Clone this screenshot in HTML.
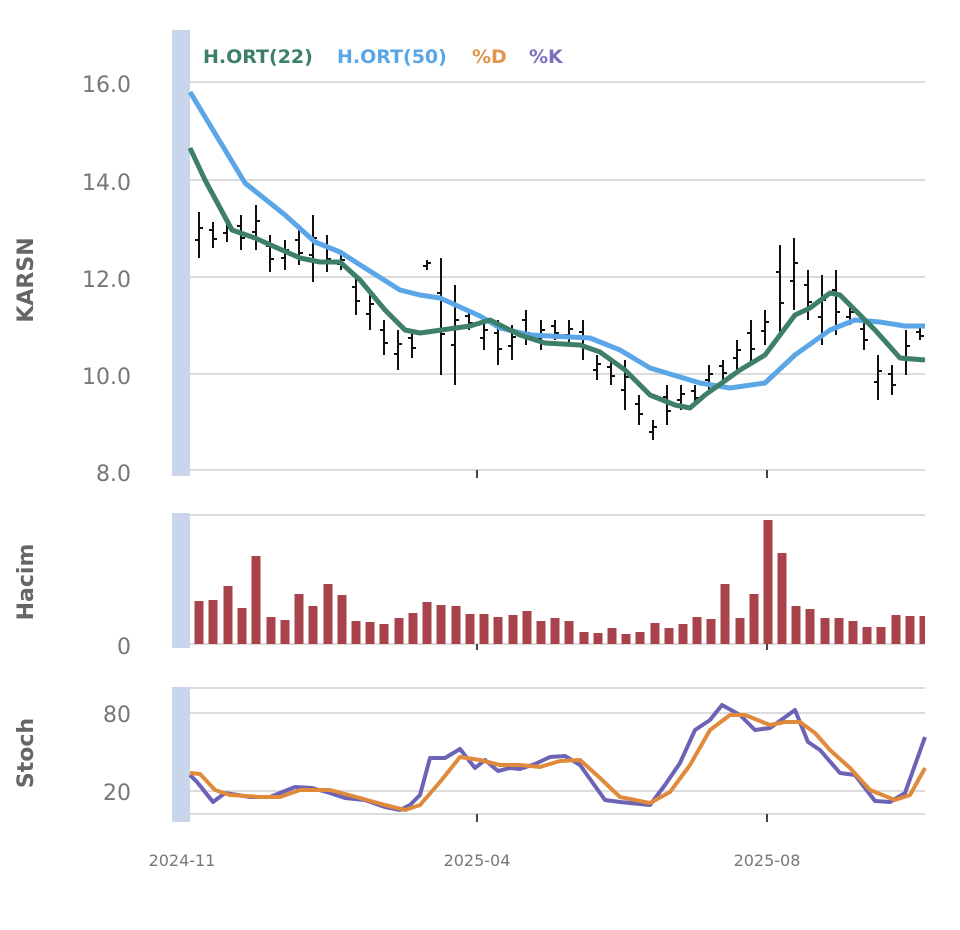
<!DOCTYPE html>
<html><head><meta charset="utf-8"><style>
body{margin:0;background:#fff;}
svg{display:block;font-family:"DejaVu Sans","Liberation Sans",sans-serif;}
</style></head><body>
<svg width="960" height="930" viewBox="0 0 960 930" xmlns="http://www.w3.org/2000/svg">
<rect x="172" y="30" width="18" height="446" fill="#c9d5ea"/>
<rect x="172" y="513" width="18" height="135" fill="#c9d5ea"/>
<rect x="172" y="687" width="18" height="135" fill="#c9d5ea"/>
<g stroke="#dcdcdc" stroke-width="2">
<line x1="190" x2="925" y1="82" y2="82"/><line x1="190" x2="925" y1="180" y2="180"/>
<line x1="190" x2="925" y1="277" y2="277"/><line x1="190" x2="925" y1="374" y2="374"/>
<line x1="190" x2="925" y1="470" y2="470"/>
<line x1="190" x2="925" y1="515" y2="515"/><line x1="190" x2="925" y1="644" y2="644"/>
<line x1="190" x2="925" y1="688" y2="688"/><line x1="190" x2="925" y1="713" y2="713"/>
<line x1="190" x2="925" y1="791" y2="791"/><line x1="190" x2="925" y1="814" y2="814"/>
</g>
<g stroke="#444" stroke-width="2">
<line x1="477" x2="477" y1="470" y2="478"/><line x1="767" x2="767" y1="470" y2="478"/>
<line x1="477" x2="477" y1="644" y2="650"/><line x1="767" x2="767" y1="644" y2="650"/>
<line x1="477" x2="477" y1="814" y2="822"/><line x1="767" x2="767" y1="814" y2="822"/>
</g>
<g fill="#777" font-size="22" text-anchor="end">
<text x="131" y="92">16.0</text><text x="131" y="190">14.0</text><text x="131" y="287">12.0</text>
<text x="131" y="384">10.0</text><text x="131" y="481">8.0</text>
<text x="131" y="654">0</text><text x="131" y="722">80</text><text x="131" y="800">20</text>
</g>
<g fill="#666" font-size="22" font-weight="bold" text-anchor="middle">
<text transform="translate(33,280) rotate(-90)">KARSN</text>
<text transform="translate(33,582) rotate(-90)">Hacim</text>
<text transform="translate(33,753) rotate(-90)">Stoch</text>
</g>
<g fill="#777" font-size="16" text-anchor="middle">
<text x="182" y="866">2024-11</text><text x="477" y="866">2025-04</text><text x="767" y="866">2025-08</text>
</g>
<g font-size="19" font-weight="bold">
<text x="203" y="63" fill="#3d7f68">H.ORT(22)</text>
<text x="337" y="63" fill="#5aa6e6">H.ORT(50)</text>
<text x="472" y="63" fill="#e2954c">%D</text>
<text x="529" y="63" fill="#7c6fbf">%K</text>
</g>
<path fill="none" stroke="#111" stroke-width="2" d="M199 212V258M195 240H199M199 228H203M213 222V248M209 230H213M213 239H217M227 220V242M223 233H227M227 228H231M241 215V250M237 226H241M241 238H245M256 205V250M252 232H256M256 221H260M270 235V272M266 246H270M270 259H274M285 240V270M281 258H285M285 250H289M299 230V265M295 240H299M299 253H303M313 215V282M309 255H313M313 238H317M327 235V272M323 246H327M327 259H331M341 255V270M337 264H341M341 260H345M356 275V315M352 287H356M356 301H360M370 290V330M366 314H370M370 304H374M384 320V355M380 330H384M384 343H388M398 330V370M394 354H398M398 344H402M412 330V358M408 338H412M412 348H416M427 260V270M423 266H427M427 263H431M441 258V375M437 293H441M441 334H445M455 285V385M451 345H455M455 320H459M469 310V330M465 316H469M469 323H473M484 320V350M480 338H484M484 330H488M498 320V365M494 333H498M498 349H502M512 325V360M508 346H512M512 337H516M526 310V345M522 320H526M526 333H530M541 320V350M537 338H541M541 330H545M555 320V340M551 326H555M555 333H559M569 320V345M565 335H569M569 329H573M583 320V360M579 332H583M583 346H587M597 355V380M593 370H597M597 364H601M611 360V385M607 367H611M611 376H615M625 360V410M621 390H625M625 377H629M639 395V425M635 404H639M639 414H643M653 420V440M649 432H653M653 427H657M667 385V425M663 397H667M667 411H671M681 385V410M677 400H681M681 394H685M695 385V405M691 391H695M695 398H699M709 365V390M705 380H709M709 374H713M723 360V380M719 366H723M723 373H727M737 340V370M733 358H737M737 350H741M751 320V365M747 333H751M751 349H755M765 310V345M761 331H765M765 322H769M780 245V335M776 272H780M780 303H784M794 238V310M790 281H794M794 263H798M808 270V320M804 285H808M808 302H812M822 275V345M818 317H822M822 300H826M836 270V335M832 290H836M836 312H840M850 305V325M846 317H850M850 312H854M864 320V350M860 329H864M864 340H868M878 355V400M874 382H878M878 371H882M892 365V395M888 374H892M892 385H896M906 330V375M902 357H906M906 346H910M920 328V340M916 332H920M920 336H924"/>
<polyline fill="none" stroke="#5aa6e6" stroke-width="5" stroke-linejoin="round" points="190,92 245,183 285,215 315,242 340,252 365,268 400,290 420,295 440,298 480,316 500,328 530,335 590,338 620,350 650,368 700,383 730,388 765,383 795,355 830,330 855,320 880,322 905,326 925,326"/>
<polyline fill="none" stroke="#3d7f68" stroke-width="5" stroke-linejoin="round" points="190,148 205,180 232,230 255,238 300,258 320,262 340,262 360,280 385,310 405,330 420,333 470,326 490,320 520,335 545,343 580,345 600,352 625,370 650,395 675,405 690,408 705,395 740,370 765,355 795,315 810,308 830,293 840,295 855,310 875,330 900,358 925,360"/>
<g fill="#a8434b">
<rect x="194.5" y="601" width="9" height="43"/><rect x="208.5" y="600" width="9" height="44"/>
<rect x="223.5" y="586" width="9" height="58"/><rect x="237.5" y="608" width="9" height="36"/>
<rect x="251.5" y="556" width="9" height="88"/><rect x="266.5" y="617" width="9" height="27"/>
<rect x="280.5" y="620" width="9" height="24"/><rect x="294.5" y="594" width="9" height="50"/>
<rect x="308.5" y="606" width="9" height="38"/><rect x="323.5" y="584" width="9" height="60"/>
<rect x="337.5" y="595" width="9" height="49"/><rect x="351.5" y="621" width="9" height="23"/>
<rect x="365.5" y="622" width="9" height="22"/><rect x="379.5" y="624" width="9" height="20"/>
<rect x="394.5" y="618" width="9" height="26"/><rect x="408.5" y="613" width="9" height="31"/>
<rect x="422.5" y="602" width="9" height="42"/><rect x="436.5" y="605" width="9" height="39"/>
<rect x="451.5" y="606" width="9" height="38"/><rect x="465.5" y="614" width="9" height="30"/>
<rect x="479.5" y="614" width="9" height="30"/><rect x="493.5" y="617" width="9" height="27"/>
<rect x="508.5" y="615" width="9" height="29"/><rect x="522.5" y="611" width="9" height="33"/>
<rect x="536.5" y="621" width="9" height="23"/><rect x="550.5" y="618" width="9" height="26"/>
<rect x="564.5" y="621" width="9" height="23"/><rect x="579.5" y="632" width="9" height="12"/>
<rect x="593.5" y="633" width="9" height="11"/><rect x="607.5" y="628" width="9" height="16"/>
<rect x="621.5" y="634" width="9" height="10"/><rect x="635.5" y="632" width="9" height="12"/>
<rect x="650.5" y="623" width="9" height="21"/><rect x="664.5" y="628" width="9" height="16"/>
<rect x="678.5" y="624" width="9" height="20"/><rect x="692.5" y="617" width="9" height="27"/>
<rect x="706.5" y="619" width="9" height="25"/><rect x="720.5" y="584" width="9" height="60"/>
<rect x="735.5" y="618" width="9" height="26"/><rect x="749.5" y="594" width="9" height="50"/>
<rect x="763.5" y="520" width="9" height="124"/><rect x="777.5" y="553" width="9" height="91"/>
<rect x="791.5" y="606" width="9" height="38"/><rect x="805.5" y="609" width="9" height="35"/>
<rect x="820.5" y="618" width="9" height="26"/><rect x="834.5" y="618" width="9" height="26"/>
<rect x="848.5" y="621" width="9" height="23"/><rect x="862.5" y="627" width="9" height="17"/>
<rect x="876.5" y="627" width="9" height="17"/><rect x="891.5" y="615" width="9" height="29"/>
<rect x="905.5" y="616" width="9" height="28"/><rect x="919.5" y="616" width="5.5" height="28"/>
</g>
<polyline fill="none" stroke="#6b63b5" stroke-width="4" stroke-linejoin="round" points="190,775 197,782 213,802 225,793 250,797 270,797 295,787 312,788 330,793 345,798 365,800 385,807 400,810 410,805 420,795 430,758 445,758 460,749 475,768 485,760 498,771 510,768 520,769 535,764 550,757 565,756 580,765 605,800 620,802 650,805 665,785 680,763 695,730 710,720 722,705 740,715 755,730 770,728 795,710 808,742 820,750 840,773 855,775 875,801 890,802 905,793 925,737"/>
<polyline fill="none" stroke="#e08a3c" stroke-width="4" stroke-linejoin="round" points="190,773 200,774 215,790 230,795 260,797 280,797 300,790 330,790 360,798 385,805 405,810 420,805 440,782 460,757 480,760 500,765 520,765 540,767 560,761 580,760 600,778 620,797 650,803 670,792 690,765 710,730 730,715 745,715 770,725 785,722 800,722 815,733 830,750 850,768 870,790 895,800 910,795 925,768"/>
</svg>
</body></html>
